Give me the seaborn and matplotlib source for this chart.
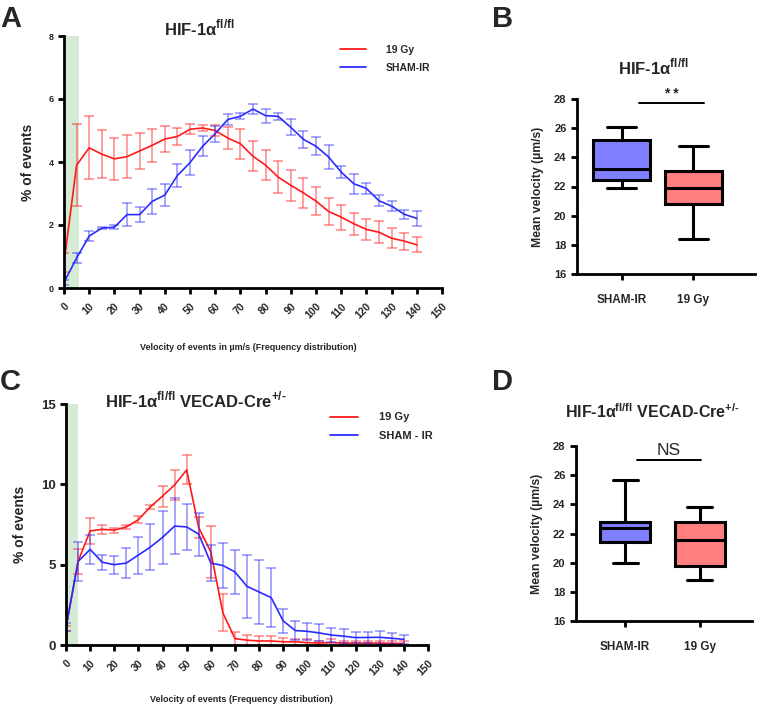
import numpy as np
import pandas as pd
import matplotlib
matplotlib.use("Agg")
import matplotlib.pyplot as plt
import seaborn as sns

sns.set_style("white")
plt.rcParams["font.family"] = ["Liberation Sans", "DejaVu Sans"]
plt.rcParams["font.weight"] = "bold"
plt.rcParams["mathtext.fontset"] = "custom"
plt.rcParams["mathtext.rm"] = "Liberation Sans:bold"
plt.rcParams["mathtext.bf"] = "Liberation Sans:bold"

# velocity bins (µm/s)
velocity = list(range(0, 145, 5))

# panel A: HIF-1a fl/fl, % of events (mean and error)
a_19gy = [0.8, 3.9, 4.45, 4.25, 4.1, 4.17, 4.35, 4.53, 4.73, 4.81, 5.04, 5.08, 5.0, 4.76, 4.58,
          4.18, 3.9, 3.52, 3.26, 3.02, 2.76, 2.43, 2.25, 2.04, 1.86, 1.77, 1.58, 1.49, 1.37]
a_19gy_err = [0.3, 1.3, 1.0, 0.77, 0.67, 0.68, 0.58, 0.52, 0.4, 0.28, 0.16, 0.08, 0.17, 0.35, 0.47,
              0.48, 0.48, 0.5, 0.5, 0.48, 0.45, 0.42, 0.4, 0.35, 0.33, 0.35, 0.32, 0.27, 0.24]
a_sham = [0.18, 0.95, 1.65, 1.9, 1.93, 2.33, 2.33, 2.75, 2.95, 3.57, 3.98, 4.5, 4.9, 5.35, 5.45,
          5.68, 5.47, 5.45, 5.1, 4.72, 4.5, 4.16, 3.68, 3.31, 3.16, 2.77, 2.6, 2.34, 2.21]
a_sham_err = [0.07, 0.15, 0.16, 0.04, 0.06, 0.37, 0.25, 0.4, 0.35, 0.36, 0.4, 0.31, 0.25, 0.16, 0.1,
              0.15, 0.22, 0.12, 0.25, 0.26, 0.29, 0.37, 0.2, 0.32, 0.18, 0.17, 0.17, 0.15, 0.24]

# panel C: HIF-1a fl/fl VECAD-Cre+/-
c_19gy = [1.05, 5.2, 7.1, 7.2, 7.15, 7.35, 7.8, 8.6, 9.27, 9.96, 10.9, 7.3, 5.8, 2.0, 0.4,
          0.3, 0.25, 0.25, 0.2, 0.2, 0.15, 0.12, 0.15, 0.12, 0.12, 0.12, 0.12, 0.1, 0.1]
c_19gy_err = [0.15, 0.75, 0.8, 0.3, 0.15, 0.15, 0.22, 0.12, 0.65, 0.95, 0.9, 0.65, 1.6, 1.15, 0.38,
              0.35, 0.28, 0.3, 0.25, 0.2, 0.2, 0.15, 0.2, 0.15, 0.15, 0.15, 0.15, 0.12, 0.12]
c_sham = [1.1, 5.2, 5.95, 5.15, 5.0, 5.1, 5.6, 6.1, 6.7, 7.4, 7.35, 6.9, 5.1, 4.95, 4.55,
          3.65, 3.3, 2.95, 1.5, 0.9, 0.85, 0.75, 0.62, 0.55, 0.46, 0.47, 0.48, 0.42, 0.35]
c_sham_err = [0.25, 1.2, 0.88, 0.48, 0.55, 0.95, 1.15, 1.45, 1.65, 1.75, 1.45, 1.33, 1.13, 1.4, 1.35,
              1.95, 2.0, 1.85, 0.75, 0.58, 0.53, 0.53, 0.45, 0.42, 0.35, 0.35, 0.4, 0.33, 0.3]

# panels B and D: mean velocity (µm/s) per group (min, q1, median, q3, max)
groups = ["SHAM-IR", "19 Gy"]
b_sham = [21.9, 22.45, 23.2, 25.2, 26.05]
b_19gy = [18.4, 20.8, 21.87, 23.05, 24.8]
d_sham = [20.0, 21.45, 22.38, 22.8, 25.7]
d_19gy = [18.8, 19.8, 21.57, 22.8, 23.85]

RED = "#ff1a1a"
BLUE = "#2b2bff"
box_pal = {"SHAM-IR": "#7f7fff", "19 Gy": "#ff7f7f"}

TITLE_A = "HIF-1α$^{\\mathbf{fl/fl}}$"
TITLE_C = "HIF-1α$^{\\mathbf{fl/fl}}$ VECAD-Cre$^{\\text{+/-}}$"

W, H = 760, 706
fig = plt.figure(figsize=(W / 100, H / 100), dpi=100)


def px_axes(x0, y0, x1, y1):
    return fig.add_axes([x0 / W, 1 - y1 / H, (x1 - x0) / W, (y1 - y0) / H])


def style_axes(ax, lw=2.0):
    sns.despine(ax=ax)
    for s in ["left", "bottom"]:
        ax.spines[s].set_linewidth(lw)
        ax.spines[s].set_color("black")
    ax.tick_params(axis="both", direction="out", length=4.5, width=lw, color="black",
                   left=True, bottom=True)


def line_panel(ax, gy, gy_err, sham, sham_err, ymax, yticks, shade, sham_label, ytick_fs, leg_fs):
    ax.axvspan(shade[0], shade[1], color="#d6ebd6", zorder=0, lw=0)
    df = pd.DataFrame({"velocity": velocity * 2,
                       "pct": gy + sham,
                       "group": ["19 Gy"] * len(velocity) + [sham_label] * len(velocity)})
    sns.lineplot(data=df, x="velocity", y="pct", hue="group",
                 palette={"19 Gy": RED, sham_label: BLUE}, linewidth=1.2, ax=ax)
    ax.errorbar(velocity, gy, yerr=gy_err, fmt="none", ecolor=RED, alpha=0.45,
                elinewidth=1.3, capsize=3.3, capthick=1.3)
    ax.errorbar(velocity, sham, yerr=sham_err, fmt="none", ecolor=BLUE, alpha=0.45,
                elinewidth=1.3, capsize=3.3, capthick=1.3)
    ax.set_xlim(0, 150)
    ax.set_ylim(0, ymax)
    ax.set_xticks(range(0, 151, 10))
    ax.set_yticks(yticks)
    ax.set_xlabel("")
    ax.set_ylabel("")
    style_axes(ax)
    ax.tick_params(axis="y", labelsize=ytick_fs, pad=3)
    ax.tick_params(axis="x", labelsize=7.5, pad=5)
    for lab in ax.get_xticklabels():
        lab.set_rotation(45)
        lab.set_ha("right")
        lab.set_va("top")
        lab.set_rotation_mode("anchor")
        lab.set_fontweight("bold")
    for lab in ax.get_yticklabels():
        lab.set_fontweight("bold")
    leg = ax.legend(loc="upper left", bbox_to_anchor=(0.73, 0.965), frameon=False,
                    handlelength=2.5, handletextpad=1.9, labelspacing=0.75,
                    borderpad=0, borderaxespad=0, prop={"size": leg_fs, "weight": "bold"})
    for h in leg.get_lines():
        h.set_linewidth(1.3)


def box_panel(ax, sham, gy, width, xlim, sig_x, sig_y, sig_text, sig_kw):
    df = pd.DataFrame({"group": ["SHAM-IR"] * len(sham) + ["19 Gy"] * len(gy),
                       "velocity": sham + gy})
    sns.boxplot(data=df, x="group", y="velocity", hue="group", order=groups,
                palette=box_pal, saturation=1, width=width, whis=(0, 100),
                linewidth=2.2, linecolor="black", legend=False, ax=ax)
    ax.set_ylim(16, 28)
    ax.set_yticks(range(16, 29, 2))
    ax.set_xlim(*xlim)
    ax.set_xlabel("")
    ax.set_ylabel("Mean velocity (µm/s)", fontsize=8.8, fontweight="bold", labelpad=7)
    style_axes(ax)
    ax.tick_params(axis="y", labelsize=8, pad=3)
    ax.tick_params(axis="x", labelsize=8.5, pad=10)
    for lab in ax.get_xticklabels() + ax.get_yticklabels():
        lab.set_fontweight("bold")
    ax.plot(sig_x, [sig_y, sig_y], color="black", lw=1.4, clip_on=False)
    ax.text(np.mean(sig_x), sig_y + 0.15, sig_text, ha="center", va="bottom", **sig_kw)


# panel A
axA = px_axes(64, 36, 442, 288)
line_panel(axA, a_19gy, a_19gy_err, a_sham, a_sham_err, 8, [0, 2, 4, 6, 8], (0.6, 6),
           "SHAM-IR", 6.5, 7.5)
axA.set_ylabel("% of events", fontsize=10, fontweight="bold", labelpad=10)
fig.text(248 / W, 1 - 350 / H, "Velocity of events in µm/s (Frequency distribution)",
         ha="center", va="baseline", fontsize=6.5, fontweight="bold")
fig.text(164 / W, 1 - 35 / H, TITLE_A, ha="left", va="baseline",
         fontsize=12, fontweight="bold")

# panel C
axC = px_axes(66, 404, 428, 645)
line_panel(axC, c_19gy, c_19gy_err, c_sham, c_sham_err, 15, [0, 5, 10, 15], (0.4, 5),
           "SHAM - IR", 9.5, 8)
axC.set_ylabel("% of events", fontsize=10, fontweight="bold", labelpad=10)
fig.text(241 / W, 1 - 702 / H, "Velocity of events (Frequency distribution)",
         ha="center", va="baseline", fontsize=6.5, fontweight="bold")
fig.text(105 / W, 1 - 407 / H, TITLE_C, ha="left", va="baseline",
         fontsize=12, fontweight="bold")

# panel B
axB = px_axes(577, 99, 755, 274)
box_panel(axB, b_sham, b_19gy, 0.8, (-0.62, 1.86), [0.24, 1.15], 27.7, "* *",
          {"fontsize": 10, "fontweight": "bold"})
fig.text(618 / W, 1 - 74 / H, TITLE_A, ha="left", va="baseline",
         fontsize=12, fontweight="bold")

# panel D
axD = px_axes(576, 446, 752, 621)
box_panel(axD, d_sham, d_19gy, 0.67, (-0.66, 1.7), [0.16, 1.01], 27.04, "NS",
          {"fontsize": 12.5, "fontweight": "normal"})
fig.text(565 / W, 1 - 418 / H, TITLE_C, ha="left", va="baseline",
         fontsize=11.5, fontweight="bold")

# panel letters
for letter, x, y in [("A", 0, 27), ("B", 492, 27), ("C", 0, 390), ("D", 492, 390)]:
    fig.text(x / W, 1 - y / H, letter, ha="left", va="baseline", fontsize=21, fontweight="bold")

fig.savefig("out.png", dpi=100, facecolor="white")
